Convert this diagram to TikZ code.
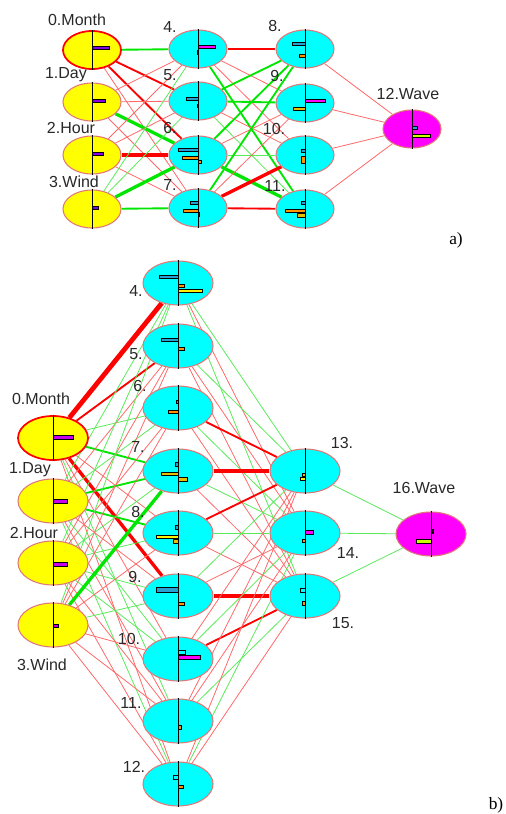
\documentclass[tikz,border=0pt]{standalone}
\usepackage{fontspec}
\setmainfont{Liberation Sans}
\newfontfamily\seriffam{Liberation Serif}
\usetikzlibrary{shapes.geometric,backgrounds}

\definecolor{nb}{RGB}{225,120,120}
\definecolor{lred}{RGB}{255,105,105}
\definecolor{rr}{RGB}{255,0,0}
\definecolor{lgreen}{RGB}{90,235,90}
\definecolor{gg}{RGB}{0,230,0}
\definecolor{cyanx}{RGB}{0,255,255}
\definecolor{magx}{RGB}{255,0,255}
\definecolor{yelx}{RGB}{255,255,0}
\definecolor{bpurA}{RGB}{140,0,230}
\definecolor{bpurB}{RGB}{200,0,240}
\definecolor{bblue}{RGB}{40,160,210}
\definecolor{borange}{RGB}{255,150,0}
\definecolor{bgold}{RGB}{230,190,0}
\definecolor{byel}{RGB}{255,240,0}
\definecolor{bygr}{RGB}{200,255,0}
\definecolor{txt}{RGB}{40,40,40}

\tikzset{
 nodeA/.style={ellipse,draw=nb,line width=0.8pt,inner sep=0pt,minimum width=43.5pt,minimum height=28.5pt},
 nodeB/.style={nodeA,minimum width=52.5pt,minimum height=33pt},
 inp/.style={fill=yelx},
 hid/.style={fill=cyanx},
 outn/.style={fill=magx},
 first/.style={draw=rr,line width=1.3pt},
 axisl/.style={draw=black,line width=0.7pt},
 barbox/.style={draw=black,line width=0.45pt},
 lbl/.style={font=\fontsize{12}{14}\selectfont,text=txt,inner sep=0pt},
 tag/.style={font=\seriffam\fontsize{13}{15}\selectfont,text=black,inner sep=0pt},
 rt/.style={draw=lred,line width=0.6pt},
 rm/.style={draw=rr,line width=1.4pt},
 rT/.style={draw=rr,line width=2.5pt},
 rX/.style={draw=rr,line width=3.6pt},
 gt/.style={draw=lgreen,line width=0.6pt},
 gm/.style={draw=gg,line width=1.4pt},
 gT/.style={draw=gg,line width=2.5pt},
}
\newcommand\nn[3]{\node[#1] (#2) at (#3) {}; \draw[axisl] (#2.north) -- (#2.south);}
\newcommand\nbar[6]{\draw[barbox,fill=#6] ([shift={(#2,#3)}]#1.center) rectangle ([shift={(#4,#5)}]#1.center);}
\newcommand\ed[3]{\draw[#1] (#2) -- (#3);}

\begin{document}
\begin{tikzpicture}[x=0.75pt,y=-0.75pt]
\useasboundingbox (0,0) rectangle (506,814);

% ---------------- a) nodes
\nn{nodeA,inp,first}{a0}{92,50}
\nn{nodeA,inp}{a1}{92,102}
\nn{nodeA,inp}{a2}{92,155}
\nn{nodeA,inp}{a3}{92,209}
\nn{nodeA,hid}{a4}{198,49}
\nn{nodeA,hid}{a5}{198,101}
\nn{nodeA,hid}{a6}{198,155}
\nn{nodeA,hid}{a7}{198,208}
\nn{nodeA,hid}{a8}{305,49}
\nn{nodeA,hid}{a9}{305,103}
\nn{nodeA,hid}{a10}{305,155}
\nn{nodeA,hid}{a11}{305,209}
\nn{nodeA,outn}{a12}{412,129}

\nbar{a0}{0}{-4}{17}{-1}{bpurA}
\nbar{a1}{0}{-3}{13}{0}{bpurA}
\nbar{a2}{0}{-3}{11}{0}{bpurA}
\nbar{a3}{0}{-3}{6}{0}{bpurA}
\nbar{a4}{0}{-4}{17}{-1}{magx}
\nbar{a4}{-1}{1}{0}{5}{borange}
\nbar{a5}{-12}{-4}{0}{-1}{bblue}
\nbar{a5}{-1}{3}{0}{6}{rr}
\nbar{a6}{-20}{-7}{0}{-4}{bblue}
\nbar{a6}{-16}{1}{0}{4}{borange}
\nbar{a6}{0}{5}{3}{8}{borange}
\nbar{a7}{-8}{-7}{0}{-4}{bblue}
\nbar{a7}{-15}{1}{0}{4}{borange}
\nbar{a7}{0}{4}{1}{8}{borange}
\nbar{a8}{-13}{-7}{0}{-4}{bblue}
\nbar{a8}{-6}{5}{0}{8}{borange}
\nbar{a9}{0}{-4}{20}{-1}{magx}
\nbar{a9}{-12}{4}{0}{7}{bgold}
\nbar{a10}{-4}{-6}{0}{-3}{bblue}
\nbar{a10}{-4}{1}{0}{8}{borange}
\nbar{a11}{-4}{-8}{0}{-5}{bblue}
\nbar{a11}{-20}{0}{0}{3}{borange}
\nbar{a11}{-8}{4}{0}{8}{bgold}
\nbar{a12}{0}{-3}{5}{0}{bblue}
\nbar{a12}{0}{5}{18}{8}{bygr}

% labels a)
\node[lbl] (la0) at (77,20) {0.Month};
\node[lbl] (la1) at (66,75) {1.Day};
\node[lbl] (la2) at (71,128) {2.Hour};
\node[lbl] (la3) at (74,182) {3.Wind};
\node[lbl] (la4) at (170,27) {4.};
\node[lbl] (la5) at (170,75) {5.};
\node[lbl] (la6) at (170,128) {6.};
\node[lbl] (la7) at (170,185) {7.};
\node[lbl] (la8) at (275,26) {8.};
\node[lbl] (la9) at (277,76) {9.};
\node[lbl] (la10) at (274,129) {10.};
\node[lbl] (la11) at (275,186) {11.};
\node[lbl] (la12) at (408,94) {12.Wave};
\node[tag] (taga) at (456,240) {a)};

% ---------------- b) nodes
\nn{nodeB,inp,first}{b0}{53,438}
\nn{nodeB,inp}{b1}{53,501}
\nn{nodeB,inp}{b2}{53,563}
\nn{nodeB,inp}{b3}{53,625}
\nn{nodeB,hid}{b4}{178,283}
\nn{nodeB,hid}{b5}{178,346}
\nn{nodeB,hid}{b6}{178,408}
\nn{nodeB,hid}{b7}{178,471}
\nn{nodeB,hid}{b8}{178,533}
\nn{nodeB,hid}{b9}{178,596}
\nn{nodeB,hid}{b10}{178,659}
\nn{nodeB,hid}{b11}{178,721}
\nn{nodeB,hid}{b12}{178,784}
\nn{nodeB,hid}{b13}{305,471}
\nn{nodeB,hid}{b14}{305,533}
\nn{nodeB,hid}{b15}{305,596}
\nn{nodeB,outn}{b16}{431,534}

\nbar{b0}{0}{-3}{20}{1}{bpurB}
\nbar{b1}{0}{-2}{14}{2}{bpurB}
\nbar{b2}{0}{-1}{14}{3}{bpurB}
\nbar{b3}{0}{-1}{5}{2}{bpurB}
\nbar{b4}{-19}{-8}{0}{-5}{bblue}
\nbar{b4}{0}{1}{6}{4}{borange}
\nbar{b4}{0}{6}{24}{9}{byel}
\nbar{b5}{-17}{-8}{0}{-5}{bblue}
\nbar{b5}{0}{1}{6}{4}{borange}
\nbar{b6}{-2}{-8}{0}{-5}{bblue}
\nbar{b6}{-10}{2}{0}{5}{borange}
\nbar{b7}{-3}{-9}{0}{-5}{bblue}
\nbar{b7}{-17}{1}{0}{4}{bgold}
\nbar{b7}{0}{6}{9}{10}{bgold}
\nbar{b8}{-3}{-8}{0}{-4}{bblue}
\nbar{b8}{-22}{2}{0}{5}{byel}
\nbar{b8}{-5}{6}{0}{10}{bgold}
\nbar{b9}{-22}{-9}{0}{-4}{bblue}
\nbar{b9}{0}{6}{6}{9}{borange}
\nbar{b10}{0}{-9}{7}{-5}{cyanx}
\nbar{b10}{0}{-4}{22}{0}{magx}
\nbar{b11}{0}{4}{3}{8}{borange}
\nbar{b12}{-5}{-9}{0}{-5}{cyanx}
\nbar{b12}{0}{1}{5}{4}{borange}
\nbar{b13}{-3}{2}{0}{5}{bgold}
\nbar{b13}{-5}{6}{0}{9}{byel}
\nbar{b14}{0}{-3}{8}{1}{magx}
\nbar{b14}{-3}{6}{0}{9}{borange}
\nbar{b15}{-5}{-8}{0}{-4}{cyanx}
\nbar{b15}{-3}{5}{0}{9}{borange}
\nbar{b16}{0}{-5}{2}{-1}{black}
\nbar{b16}{-15}{5}{0}{9}{bygr}

% labels b)
\node[lbl] (lb0) at (41,399) {0.Month};
\node[lbl] (lb1) at (30,470) {1.Day};
\node[lbl] (lb2) at (34,533) {2.Hour};
\node[lbl] (lb3) at (42,665) {3.Wind};
\node[lbl] (lb4) at (136,291) {4.};
\node[lbl] (lb5) at (136,354) {5.};
\node[lbl] (lb6) at (140,386) {6.};
\node[lbl] (lb7) at (138,447) {7.};
\node[lbl] (lb8) at (138,512) {8.};
\node[lbl] (lb9) at (135,577) {9.};
\node[lbl] (lb10) at (129,639) {10.};
\node[lbl] (lb11) at (131,703) {11.};
\node[lbl] (lb12) at (134,767) {12.};
\node[lbl] (lb13) at (342,443) {13.};
\node[lbl] (lb14) at (348,553) {14.};
\node[lbl] (lb15) at (343,623) {15.};
\node[lbl] (lb16) at (424,488) {16.Wave};
\node[tag] (tagb) at (496,805) {b)};

% ---------------- connections (behind nodes)
\begin{scope}[on background layer]
% a) input -> hidden 1
\ed{gm}{a0}{a4}\ed{rm}{a0}{a5}\ed{rm}{a0}{a6}\ed{rt}{a0}{a7}
\ed{rt}{a1}{a4}\ed{rt}{a1}{a5}\ed{gT}{a1}{a6}\ed{rt}{a1}{a7}
\ed{rt}{a2}{a4}\ed{rt}{a2}{a5}\ed{rX}{a2}{a6}\ed{rt}{a2}{a7}
\ed{gt}{a3}{a4}\ed{gt}{a3}{a5}\ed{gT}{a3}{a6}\ed{gm}{a3}{a7}
% a) hidden 1 -> hidden 2
\ed{rm}{a4}{a8}\ed{rt}{a4}{a9}\ed{rt}{a4}{a10}\ed{gm}{a4}{a11}
\ed{gm}{a5}{a8}\ed{gm}{a5}{a9}\ed{rt}{a5}{a10}\ed{gt}{a5}{a11}
\ed{gm}{a6}{a8}\ed{rt}{a6}{a9}\ed{gt}{a6}{a10}\ed{gT}{a6}{a11}
\ed{gm}{a7}{a8}\ed{rt}{a7}{a9}\ed{rT}{a7}{a10}\ed{rm}{a7}{a11}
% a) hidden 2 -> output
\ed{rt}{a8}{a12}\ed{rt}{a9}{a12}\ed{rt}{a10}{a12}\ed{rt}{a11}{a12}

% b) input -> hidden 1
\ed{rX}{b0}{b4}\ed{rm}{b0}{b5}\ed{gt}{b0}{b6}\ed{gm}{b0}{b7}\ed{rt}{b0}{b8}
\ed{rT}{b0}{b9}\ed{rt}{b0}{b10}\ed{gt}{b0}{b11}\ed{rt}{b0}{b12}
\ed{gt}{b1}{b4}\ed{rt}{b1}{b5}\ed{gt}{b1}{b6}\ed{gm}{b1}{b7}\ed{gm}{b1}{b8}
\ed{rt}{b1}{b9}\ed{gt}{b1}{b10}\ed{rt}{b1}{b11}\ed{gt}{b1}{b12}
\ed{gt}{b2}{b4}\ed{rt}{b2}{b5}\ed{rt}{b2}{b6}\ed{gt}{b2}{b7}\ed{gt}{b2}{b8}
\ed{gt}{b2}{b9}\ed{gt}{b2}{b10}\ed{rt}{b2}{b11}\ed{rt}{b2}{b12}
\ed{gt}{b3}{b4}\ed{rt}{b3}{b5}\ed{rt}{b3}{b6}\ed{gT}{b3}{b7}\ed{rt}{b3}{b8}
\ed{gt}{b3}{b9}\ed{rt}{b3}{b10}\ed{rt}{b3}{b11}\ed{rt}{b3}{b12}
% b) hidden 1 -> hidden 2
\ed{gt}{b4}{b13}\ed{rt}{b4}{b14}\ed{gt}{b4}{b15}
\ed{gt}{b5}{b13}\ed{rt}{b5}{b14}\ed{rt}{b5}{b15}
\ed{rm}{b6}{b13}\ed{gt}{b6}{b14}\ed{rt}{b6}{b15}
\ed{rT}{b7}{b13}\ed{gt}{b7}{b14}\ed{rt}{b7}{b15}
\ed{rm}{b8}{b13}\ed{gt}{b8}{b14}\ed{rt}{b8}{b15}
\ed{gt}{b9}{b13}\ed{rt}{b9}{b14}\ed{rT}{b9}{b15}
\ed{rt}{b10}{b13}\ed{gt}{b10}{b14}\ed{rm}{b10}{b15}
\ed{rt}{b11}{b13}\ed{rt}{b11}{b14}\ed{gt}{b11}{b15}
\ed{rt}{b12}{b13}\ed{gt}{b12}{b14}\ed{rt}{b12}{b15}
% b) hidden 2 -> output
\ed{gt}{b13}{b16}\ed{gt}{b14}{b16}\ed{gt}{b15}{b16}
\end{scope}
\end{tikzpicture}
\end{document}
